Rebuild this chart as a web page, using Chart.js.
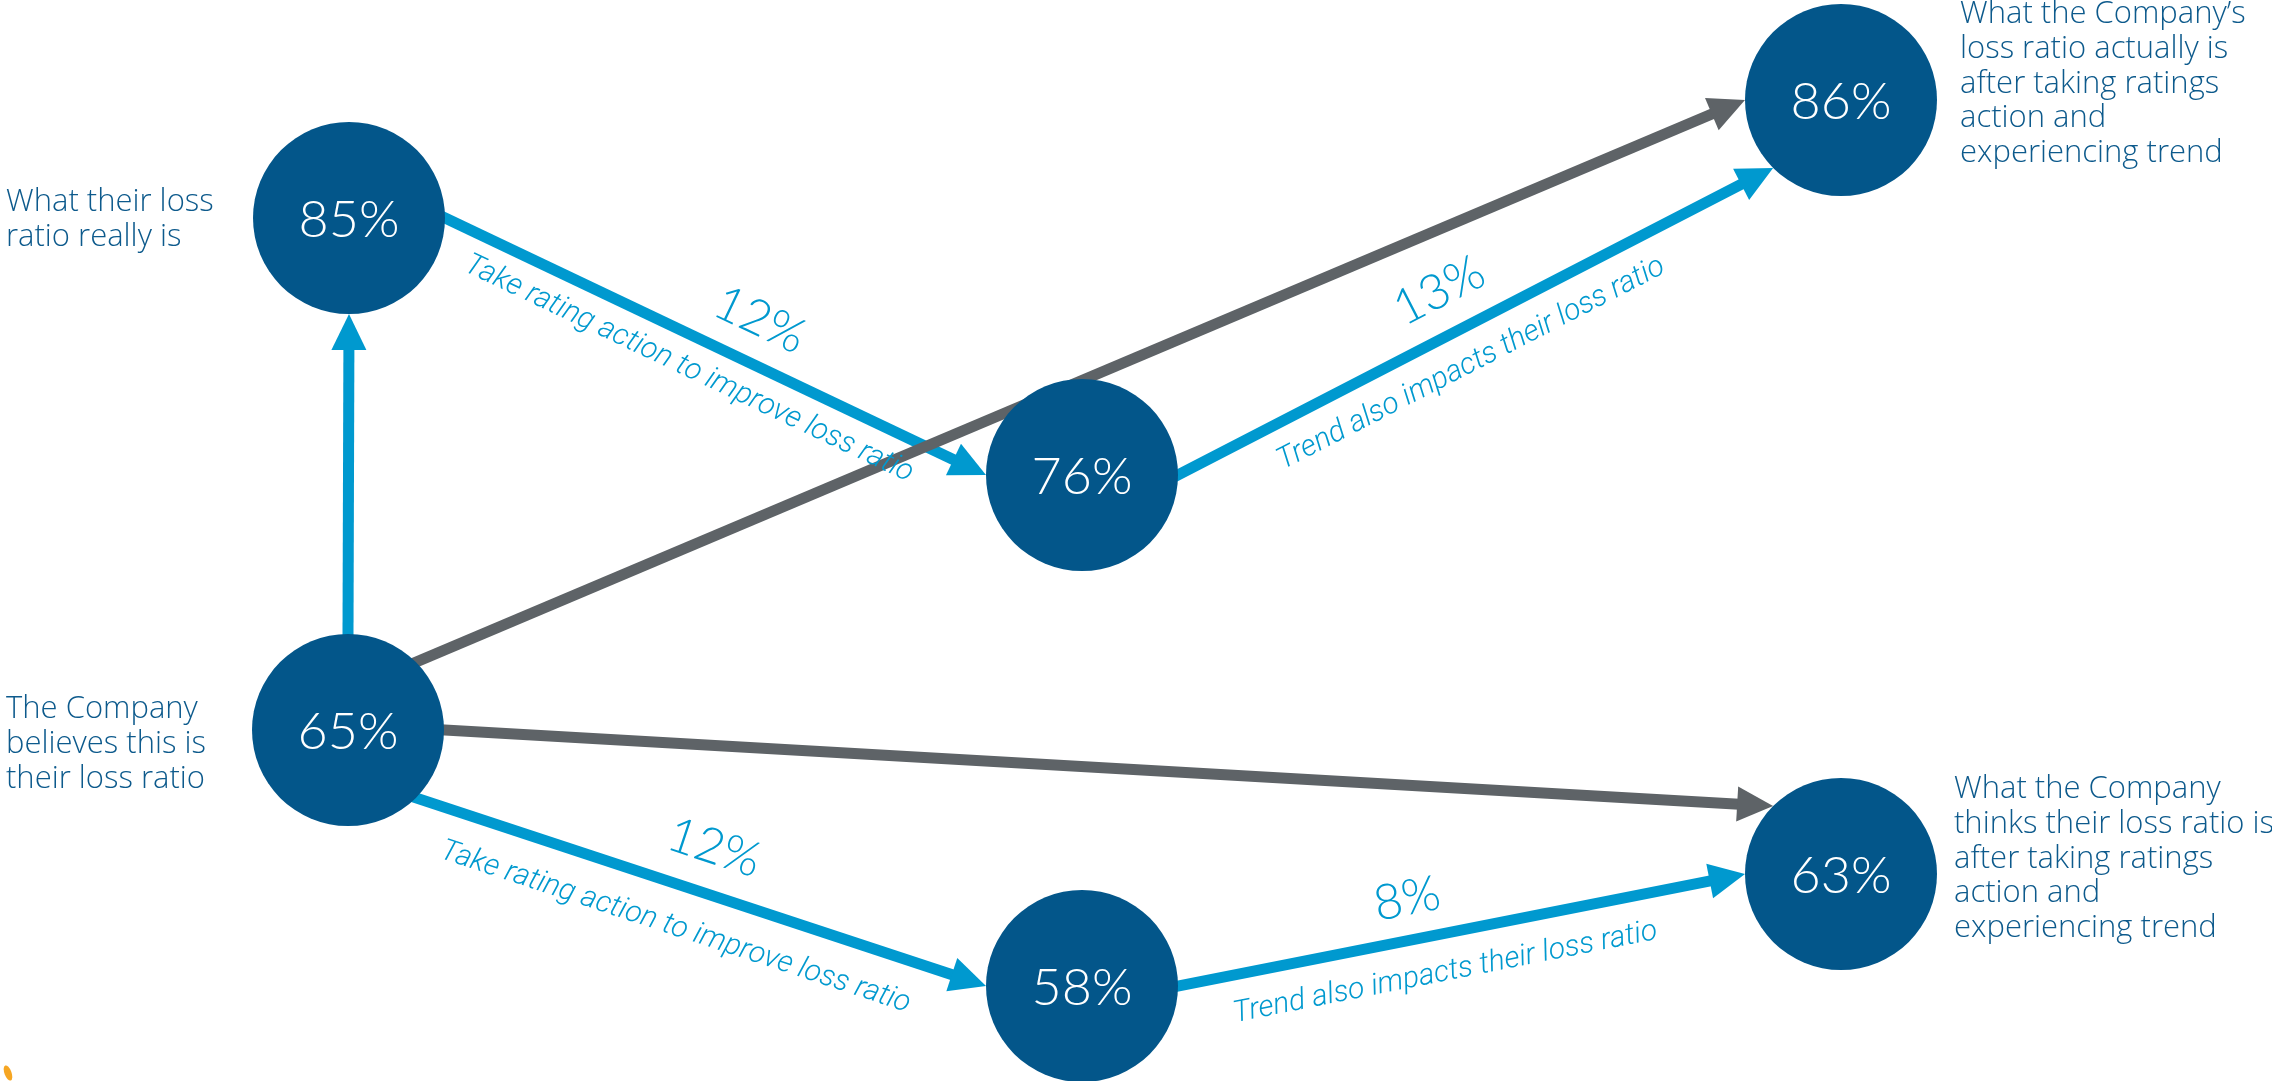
<!DOCTYPE html>
<html>
<head>
<meta charset="utf-8">
<script src="https://cdn.jsdelivr.net/npm/chart.js@4.4.1/dist/chart.umd.min.js"></script>
<style>
  html, body { margin: 0; padding: 0; background: #fff; }
  #wrap { width: 2272px; height: 1081px; position: relative; }
</style>
</head>
<body>
<div id="wrap"><canvas id="myChart"></canvas></div>
<script>
// loss ratio at each step and where each step sits on the page
var nodeLabels = ['85%', '65%', '76%', '58%', '86%', '63%'];
var nodeX = [349, 348, 1082, 1082, 1841, 1841];
var nodeY = [218, 730, 475, 986, 100, 874];

// arrows: from node, to node, where they leave / hit the circle (degrees)
var edgeFrom = [1, 0, 2, 1, 1, 1, 3];
var edgeTo = [0, 2, 4, 4, 5, 3, 5];
var edgeStartAngle = [-90, 0, 0, -45, 0, 45, 0];
var edgeEndAngle = [90, 180, 135, 180, -135, 180, 180];
var edgeGrey = [false, false, false, true, true, false, false];
var edgeChange = ['', '12%', '13%', '', '', '12%', '8%'];
var edgeNotes = ['', 'Take rating action to improve loss ratio', 'Trend also impacts their loss ratio', '', '',
    'Take rating action to improve loss ratio', 'Trend also impacts their loss ratio'];

var descriptions = [
    ['What their loss', 'ratio really is'],
    ['The Company', 'believes this is', 'their loss ratio'],
    ['What the Company\u2019s', 'loss ratio actually is', 'after taking ratings', 'action and', 'experiencing trend'],
    ['What the Company', 'thinks their loss ratio is', 'after taking ratings', 'action and', 'experiencing trend']
];

// layout
var W = 2272, H = 1081;
var R = 96, HEAD = 36, HEAD_W = 35;
var descPos = [[6, 211], [6, 718], [1960, 23], [1954, 798]];
var descGap = 34.8;
var changePos = [null, [0.548, 43], [0.473, 44], null, null, [0.498, 46], [0.418, 41]];
var notePos = [null, [0.476, -32], [0.465, -36], null, null, [0.478, -42], [0.458, -39]];

var navy = '#03568A', blue = '#0099CF', grey = '#5E6367', textNavy = '#0D5A8C';

function rad(d) { return d * Math.PI / 180; }

var datasets = [{
    type: 'bubble',
    order: 0,
    data: nodeLabels.map(function (l, i) { return { x: nodeX[i], y: nodeY[i], r: R }; }),
    backgroundColor: navy,
    borderWidth: 0,
    hoverRadius: 0,
    clip: false
}];

for (var i = 0; i < edgeFrom.length; i++) {
    var f = edgeFrom[i], t = edgeTo[i];
    var s = { x: nodeX[f] + R * Math.cos(rad(edgeStartAngle[i])), y: nodeY[f] + R * Math.sin(rad(edgeStartAngle[i])) };
    var e = { x: nodeX[t] + R * Math.cos(rad(edgeEndAngle[i])), y: nodeY[t] + R * Math.sin(rad(edgeEndAngle[i])) };
    var len = Math.hypot(e.x - s.x, e.y - s.y);
    var ux = (e.x - s.x) / len, uy = (e.y - s.y) / len;
    datasets.push({
        type: 'line',
        order: edgeGrey[i] ? 1 : 2,
        data: [{ x: s.x - 8 * ux, y: s.y - 8 * uy }, { x: e.x - (HEAD - 2) * ux, y: e.y - (HEAD - 2) * uy }],
        borderColor: edgeGrey[i] ? grey : blue,
        borderWidth: 11,
        borderCapStyle: 'butt',
        pointRadius: 0,
        pointHoverRadius: 0,
        fill: false,
        tension: 0,
        clip: false,
        arrowFrom: s,
        arrowTip: e,
        edge: i
    });
}

var diagramPlugin = {
    id: 'diagram',
    afterDatasetDraw: function (chart, args) {
        var ds = chart.data.datasets[args.index];
        if (!ds.arrowTip) return;
        var ctx = chart.ctx, xs = chart.scales.x, ys = chart.scales.y;
        var sx = xs.getPixelForValue(ds.arrowFrom.x), sy = ys.getPixelForValue(ds.arrowFrom.y);
        var tx = xs.getPixelForValue(ds.arrowTip.x), ty = ys.getPixelForValue(ds.arrowTip.y);
        var len = Math.hypot(tx - sx, ty - sy);
        var ux = (tx - sx) / len, uy = (ty - sy) / len;
        var bx = tx - ux * HEAD, by = ty - uy * HEAD;
        ctx.save();
        ctx.fillStyle = ds.borderColor;
        ctx.beginPath();
        ctx.moveTo(tx, ty);
        ctx.lineTo(bx - uy * HEAD_W / 2, by + ux * HEAD_W / 2);
        ctx.lineTo(bx + uy * HEAD_W / 2, by - ux * HEAD_W / 2);
        ctx.closePath();
        ctx.fill();
        ctx.restore();
    },
    afterDraw: function (chart) {
        var ctx = chart.ctx, xs = chart.scales.x, ys = chart.scales.y;
        ctx.save();

        // values inside circles
        var bubbles = chart.getDatasetMeta(0).data;
        ctx.fillStyle = '#ffffff';
        ctx.font = '300 52px Lato';
        ctx.textAlign = 'center';
        ctx.textBaseline = 'alphabetic';
        bubbles.forEach(function (pt, k) {
            ctx.fillText(nodeLabels[k], pt.x, pt.y + 19);
        });

        // labels along the arrows
        chart.data.datasets.forEach(function (ds) {
            if (!ds.arrowTip) return;
            var i = ds.edge;
            var sx = xs.getPixelForValue(ds.arrowFrom.x), sy = ys.getPixelForValue(ds.arrowFrom.y);
            var tx = xs.getPixelForValue(ds.arrowTip.x), ty = ys.getPixelForValue(ds.arrowTip.y);
            var len = Math.hypot(tx - sx, ty - sy);
            var ux = (tx - sx) / len, uy = (ty - sy) / len;
            var nx = uy, ny = -ux;
            var ang = Math.atan2(ty - sy, tx - sx);
            [[edgeChange[i], changePos[i], '300 49px Lato'], [edgeNotes[i], notePos[i], 'italic 300 30px Roboto']].forEach(function (lb) {
                if (!lb[0]) return;
                var cx = sx + ux * len * lb[1][0] + nx * lb[1][1];
                var cy = sy + uy * len * lb[1][0] + ny * lb[1][1];
                ctx.save();
                ctx.translate(cx, cy);
                ctx.rotate(ang);
                ctx.fillStyle = blue;
                ctx.font = lb[2];
                ctx.textAlign = 'center';
                ctx.textBaseline = 'middle';
                ctx.fillText(lb[0], 0, 0);
                ctx.restore();
            });
        });

        // side descriptions
        ctx.fillStyle = textNavy;
        ctx.font = '300 31px "Open Sans"';
        ctx.textAlign = 'left';
        ctx.textBaseline = 'alphabetic';
        descriptions.forEach(function (lines, k) {
            lines.forEach(function (line, j) {
                ctx.fillText(line, descPos[k][0], descPos[k][1] + j * descGap);
            });
        });

        // little orange mark in the corner
        ctx.fillStyle = '#F6A623';
        ctx.beginPath();
        ctx.ellipse(8, 1073, 3.5, 8, -0.35, 0, Math.PI * 2);
        ctx.fill();
        ctx.restore();
    }
};

var ctx = document.getElementById('myChart').getContext('2d');
var myChart = new Chart(ctx, {
    type: 'bubble',
    data: { datasets: datasets },
    options: {
        responsive: true,
        maintainAspectRatio: false,
        animation: false,
        events: [],
        layout: { autoPadding: false, padding: 0 },
        plugins: {
            legend: { display: false },
            tooltip: { enabled: false }
        },
        scales: {
            x: { type: 'linear', min: 0, max: W, display: false },
            y: { type: 'linear', min: 0, max: H, reverse: true, display: false }
        }
    },
    plugins: [diagramPlugin]
});
</script>
</body>
</html>
